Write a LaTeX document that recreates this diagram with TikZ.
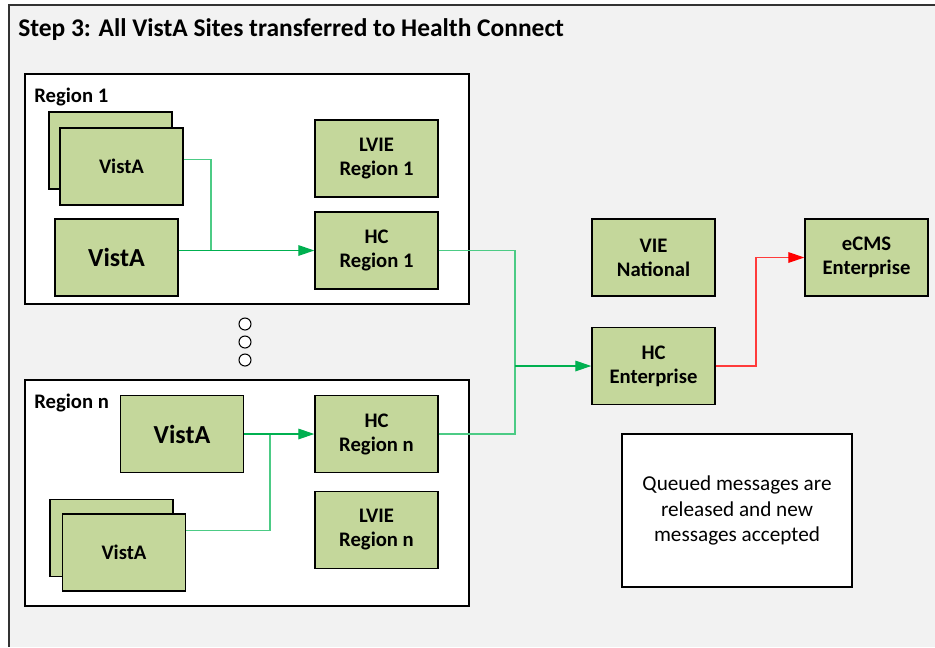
\documentclass[tikz,border=0pt]{standalone}
\usepackage{fontspec}
\setmainfont{Carlito}
\usetikzlibrary{arrows.meta}
\definecolor{boxgreen}{HTML}{C4D79B}
\definecolor{bggray}{HTML}{F2F2F2}
\definecolor{linegreen}{HTML}{00B050}
\definecolor{lightgreen}{HTML}{4CCB85}
\definecolor{linered}{HTML}{FF3B3B}
\newcommand{\bw}{92.25pt}
\newcommand{\bh}{57.75pt}

\begin{document}
\begin{tikzpicture}[x=0.75pt, y=-0.75pt,
    box/.style={draw, line width=1.1pt, fill=boxgreen, rectangle, minimum width=\bw, minimum height=\bh, inner sep=0pt, align=center, font=\fontsize{15.5}{18}\selectfont\bfseries},
    bigbox/.style={box, font=\fontsize{19.5}{22}\selectfont\bfseries},
    region/.style={draw, line width=1.1pt, fill=white, rectangle, inner sep=0pt},
    label/.style={anchor=base west, inner sep=0pt, font=\fontsize{15.5}{18}\selectfont\bfseries},
    note/.style={draw, line width=1.1pt, fill=white, rectangle, minimum width=172.5pt, minimum height=114.75pt, inner sep=0pt, align=center, font=\fontsize{15.9}{19}\selectfont},
    dot/.style={draw, circle, line width=0.8pt, fill=white, minimum size=9pt, inner sep=0pt},
    flow/.style={linegreen, line width=0.9pt, -{Triangle[length=12pt, width=8pt]}},
    feed/.style={lightgreen, line width=0.9pt},
    alert/.style={linered, line width=0.9pt, -{Triangle[length=12pt, width=8pt, color=red]}}]
    \useasboundingbox (0,0) rectangle (935,647);
    \fill[white] (0,0) rectangle (935,647);
    \fill[bggray] (9,5) rectangle (935,647);
    \draw[line width=1.5pt, black!80] (935,5) -- (9,5) -- (9,647);

    \node[label, font=\fontsize{19.1}{22}\selectfont\bfseries] (title) at (18,36) {Step 3: All VistA Sites transferred to Health Connect};

    % Region 1
    \node[region, minimum width=333pt, minimum height=172.5pt] (region-1) at (247,189) {};
    \node[label] (region-1-label) at (34,102) {Region 1};
    \node[box] (vistaback-1) at (110.5,150.5) {};
    \node[box] (vistastack-1) at (121.5,166.5) {VistA};
    \node[bigbox] (vista-1) at (116.5,257.5) {VistA};
    \node[box] (lvie-1) at (376.5,158.5) {LVIE\\Region 1};
    \node[box] (hc-1) at (376.5,250.5) {HC\\Region 1};

    % dots between regions
    \foreach \y [count=\i] in {324,342,360}
        \node[dot] (dot-\i) at (245,\y) {};

    % Region n
    \node[region, minimum width=333pt, minimum height=169.5pt] (region-n) at (247,493) {};
    \node[label] (region-n-label) at (34,408) {Region n};
    \node[bigbox] (vista-n) at (182,434) {VistA};
    \node[box] (hc-n) at (376.5,434) {HC\\Region n};
    \node[box] (lvie-n) at (376.5,530) {LVIE\\Region n};
    \node[box] (vistaback-n) at (111.5,538) {};
    \node[box] (vistastack-n) at (124,552.5) {VistA};

    % enterprise
    \node[box] (vie) at (653.5,257.5) {VIE\\National};
    \node[box] (hc-ent) at (653.5,366) {HC\\Enterprise};
    \node[box] (ecms) at (866.5,257.5) {eCMS\\Enterprise};
    \node[note] (note) at (737,510.5) {Queued messages are\\released and new\\messages accepted};

    % connectors
    \coordinate (join-1) at (211,251);
    \coordinate (join-n) at (270,434);
    \coordinate (join-ent) at (515,366);
    \coordinate (join-ecms) at (756,257.5);

    \draw[feed] ([yshift=5.5pt]vistastack-1.east) -| (join-1);
    \draw[flow] (vista-1.east |- hc-1.west) -- (hc-1.west);
    \draw[feed] ([yshift=16.5pt]vistastack-n.east) -| (join-n);
    \draw[flow] (vista-n.east) -- (hc-n.west);
    \draw[feed] (hc-1.east) -| (join-ent);
    \draw[feed] (hc-n.east) -| (join-ent);
    \draw[flow] (join-ent) -- (hc-ent.west);
    \draw[alert] (hc-ent.east) -| (join-ecms) -- (ecms.west);
\end{tikzpicture}
\end{document}
